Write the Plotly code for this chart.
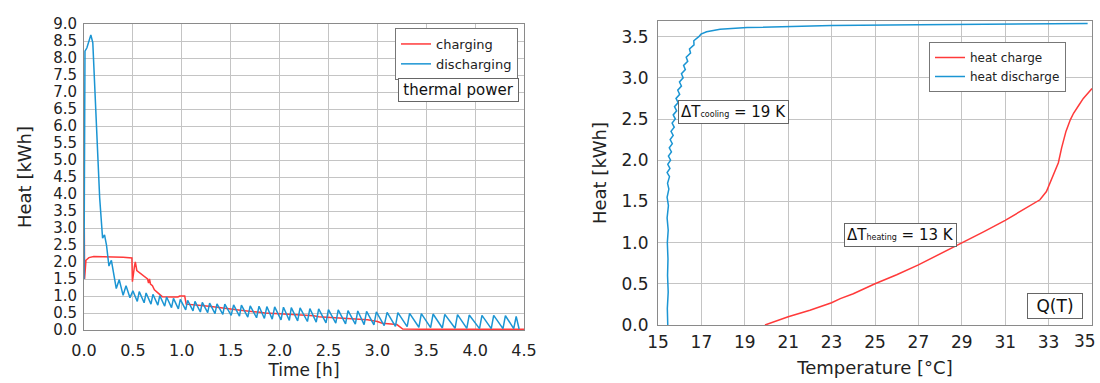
import plotly.graph_objects as go

# ---------------- Left chart: thermal power over time ----------------
charge_time = [0.0, 0.003, 0.006, 0.02, 0.05, 0.1, 0.2, 0.3, 0.4, 0.49, 0.495, 0.515, 0.525,
               0.54, 0.56, 0.6, 0.63, 0.65, 0.66, 0.67, 0.68, 0.7, 0.72, 0.75, 0.78, 0.8,
               0.9, 0.96, 0.98, 1.03, 1.045, 1.1, 1.2, 1.3, 1.4, 1.5, 1.6, 1.8, 1.85, 2.0,
               2.2, 2.35, 2.4, 2.6, 2.8, 2.9, 3.0, 3.05, 3.2, 3.26, 3.5, 4.0, 4.5]
charge_heat = [1.5, 3.0, 1.5, 2.05, 2.13, 2.16, 2.16, 2.15, 2.14, 2.12, 1.42, 1.85, 2.0,
               1.75, 1.7, 1.62, 1.55, 1.5, 1.38, 1.5, 1.35, 1.3, 1.18, 1.1, 1.02, 0.98,
               0.97, 0.97, 1.0, 1.0, 0.76, 0.74, 0.72, 0.69, 0.65, 0.6, 0.58, 0.52, 0.5, 0.48,
               0.45, 0.42, 0.39, 0.36, 0.33, 0.3, 0.25, 0.2, 0.16, 0.03, 0.02, 0.02, 0.02]

discharge_time = [0.0, 0.01, 0.03, 0.05, 0.07, 0.09, 0.12, 0.16, 0.19, 0.21, 0.23, 0.255,
                  0.28, 0.33, 0.36, 0.40, 0.43, 0.47,
                  0.500, 0.545, 0.565, 0.615, 0.635, 0.685, 0.705, 0.755, 0.775, 0.825,
                  0.845, 0.895, 0.915, 0.965, 0.985, 1.040, 1.060, 1.115, 1.135, 1.190,
                  1.210, 1.265, 1.285, 1.340, 1.360, 1.420, 1.440, 1.505, 1.530, 1.590,
                  1.610, 1.675, 1.700, 1.765, 1.790, 1.845, 1.870, 1.925, 1.950, 2.015,
                  2.040, 2.100, 2.120, 2.185, 2.210, 2.285, 2.310, 2.375, 2.400, 2.475,
                  2.500, 2.575, 2.600, 2.675, 2.700, 2.775, 2.800, 2.865, 2.890, 2.965,
                  2.990, 3.070, 3.100, 3.185, 3.210, 3.305, 3.330, 3.425, 3.450, 3.545,
                  3.570, 3.665, 3.690, 3.795, 3.820, 3.915, 3.940, 4.045, 4.070, 4.165,
                  4.190, 4.285, 4.310, 4.395, 4.420, 4.450]
discharge_heat = [1.5, 8.2, 8.3, 8.5, 8.68, 8.45, 6.5, 3.9, 2.7, 2.8, 2.5, 1.88,
                  2.05, 1.22, 1.48, 1.02, 1.3, 0.95,
                  1.15, 0.84, 1.13, 0.80, 1.09, 0.76, 1.05, 0.73, 1.01, 0.70,
                  0.97, 0.66, 0.93, 0.62, 0.90, 0.59, 0.87, 0.56, 0.84, 0.53,
                  0.81, 0.51, 0.79, 0.48, 0.77, 0.46, 0.76, 0.43, 0.74, 0.41,
                  0.73, 0.38, 0.71, 0.36, 0.70, 0.34, 0.69, 0.32, 0.68, 0.30,
                  0.67, 0.28, 0.66, 0.27, 0.65, 0.25, 0.63, 0.23, 0.62, 0.21,
                  0.60, 0.20, 0.59, 0.18, 0.57, 0.17, 0.56, 0.16, 0.55, 0.15,
                  0.53, 0.13, 0.52, 0.11, 0.51, 0.10, 0.49, 0.08, 0.48, 0.07,
                  0.47, 0.06, 0.46, 0.05, 0.45, 0.05, 0.44, 0.04, 0.43, 0.04,
                  0.43, 0.04, 0.42, 0.04, 0.40, 0.03]

left_yticks = [0.0, 0.5, 1.0, 1.5, 2.0, 2.5, 3.0, 3.5, 4.0, 4.5, 5.0, 5.5, 6.0, 6.5,
               7.0, 7.5, 8.0, 8.5, 9.0]
left_xticks = [0.0, 0.5, 1.0, 1.5, 2.0, 2.5, 3.0, 3.5, 4.0, 4.5]

# ---------------- Right chart: Q(T) ----------------
charge_temp = [19.93, 21.0, 22.0, 23.0, 23.4, 24.0, 25.0, 26.0, 27.0, 28.0, 29.0, 30.0,
               31.0, 32.0, 32.6, 32.9, 33.06, 33.25, 33.45, 33.6, 33.8, 34.0, 34.15,
               34.4, 34.6, 34.8, 35.0]
charge_q = [0.0, 0.1, 0.18, 0.27, 0.32, 0.38, 0.5, 0.61, 0.73, 0.86, 0.99, 1.13,
            1.27, 1.42, 1.52, 1.62, 1.72, 1.85, 1.97, 2.15, 2.35, 2.49, 2.57,
            2.67, 2.75, 2.81, 2.87]

discharge_temp = [15.45, 15.43, 15.47, 15.44, 15.46, 15.43, 15.47, 15.42, 15.48, 15.42,
                  15.50, 15.44, 15.53, 15.42, 15.55, 15.45, 15.58, 15.48, 15.62, 15.52,
                  15.66, 15.56, 15.70, 15.60, 15.75, 15.65, 15.80, 15.70, 15.86, 15.76,
                  15.93, 15.83, 16.00, 15.91, 16.08, 15.99, 16.16, 16.08, 16.26, 16.18,
                  16.37, 16.30, 16.50, 16.45, 16.66, 16.65, 16.88, 16.98, 17.24, 17.86,
                  19.1, 21.0, 23.0, 27.0, 31.0, 34.8]
discharge_q = [0.0, 0.2, 0.4, 0.6, 0.8, 1.0, 1.15, 1.3, 1.45, 1.55,
               1.65, 1.72, 1.80, 1.85, 1.90, 1.95, 2.00, 2.05, 2.10, 2.15,
               2.20, 2.25, 2.30, 2.35, 2.40, 2.45, 2.50, 2.55, 2.60, 2.65,
               2.70, 2.75, 2.80, 2.85, 2.90, 2.95, 3.00, 3.05, 3.10, 3.15,
               3.20, 3.25, 3.30, 3.35, 3.40, 3.45, 3.50, 3.53, 3.56, 3.59,
               3.61, 3.625, 3.635, 3.645, 3.65, 3.66]

right_yticks = [0.0, 0.5, 1.0, 1.5, 2.0, 2.5, 3.0, 3.5]
right_xticks = [15, 17, 19, 21, 23, 25, 27, 29, 31, 33, 35]

RED = "#ff3a3a"
BLUE = "#1b95d3"
FONT = "DejaVu Sans"
GRID = "#c4c4c4"
FRAME = "#8a8a8a"

fig = go.Figure()
fig.add_trace(go.Scatter(x=charge_time, y=charge_heat, mode="lines", name="charging",
                         line=dict(color=RED, width=1.5), xaxis="x", yaxis="y",
                         legend="legend"))
fig.add_trace(go.Scatter(x=discharge_time, y=discharge_heat, mode="lines", name="discharging",
                         line=dict(color=BLUE, width=1.5), xaxis="x", yaxis="y",
                         legend="legend"))
fig.add_trace(go.Scatter(x=charge_temp, y=charge_q, mode="lines", name="heat charge",
                         line=dict(color=RED, width=1.5), xaxis="x2", yaxis="y2",
                         legend="legend2"))
fig.add_trace(go.Scatter(x=discharge_temp, y=discharge_q, mode="lines", name="heat discharge",
                         line=dict(color=BLUE, width=1.5), xaxis="x2", yaxis="y2",
                         legend="legend2"))

W, H = 1100, 383

def px(x):
    return x / W

def py(y):
    return 1 - y / H

axis_common = dict(showgrid=True, gridcolor=GRID, gridwidth=1, showline=True,
                   linecolor=FRAME, linewidth=1, mirror=True, zeroline=False,
                   ticks="", color="#222", automargin=False)

# the last right-hand x tick label sits at the page edge; it is drawn as an
# annotation anchored on its tick value so it stays inside the picture
right_xtick_text = [str(v) for v in right_xticks[:-1]] + [""]

fig.update_layout(
    width=W, height=H,
    margin=dict(l=0, r=0, t=0, b=0),
    paper_bgcolor="white", plot_bgcolor="white",
    font=dict(family=FONT, color="#222"),
    xaxis=dict(domain=[px(84), px(524)], range=[0, 4.5], tickvals=left_xticks,
               ticktext=[f"{v:.1f}" for v in left_xticks], tickfont=dict(size=16),
               ticklabelstandoff=6,
               title=dict(text="Time [h]", font=dict(size=17), standoff=4),
               anchor="y", **axis_common),
    yaxis=dict(domain=[py(330), py(24)], range=[0, 9.0], tickvals=left_yticks,
               ticktext=[f"{v:.1f}" for v in left_yticks], tickfont=dict(size=15),
               ticklabelstandoff=3,
               title=dict(text="Heat [kWh]", font=dict(size=18), standoff=16),
               anchor="x", **axis_common),
    xaxis2=dict(domain=[px(658), px(1092)], range=[15, 35], tickvals=right_xticks,
                ticktext=right_xtick_text, tickfont=dict(size=17),
                ticklabelstandoff=2,
                title=dict(text="Temperature [°C]", font=dict(size=18), standoff=9),
                anchor="y2", **axis_common),
    yaxis2=dict(domain=[py(325), py(21)], range=[0, 3.69], tickvals=right_yticks,
                ticktext=[f"{v:.1f}" for v in right_yticks], tickfont=dict(size=17),
                ticklabelstandoff=5,
                title=dict(text="Heat [kWh]", font=dict(size=18), standoff=10),
                anchor="x2", **axis_common),
    legend=dict(x=px(518), y=py(28), xanchor="right", yanchor="top",
                bgcolor="white", bordercolor="#777", borderwidth=1,
                font=dict(size=13, family=FONT, color="#222"), tracegroupgap=0,
                itemwidth=30),
    legend2=dict(x=px(1066), y=py(42), xanchor="right", yanchor="top",
                 bgcolor="white", bordercolor="#777", borderwidth=1,
                 font=dict(size=12, family=FONT, color="#222"), tracegroupgap=0,
                 itemwidth=30),
    showlegend=True,
)

fig.add_annotation(text=str(right_xticks[-1]), x=right_xticks[-1], xref="x2",
                   y=py(341), yref="paper", xanchor="right", yanchor="middle",
                   xshift=6, showarrow=False, font=dict(size=17, family=FONT, color="#222"))

box = dict(bgcolor="white", bordercolor="#666", borderwidth=1, borderpad=2,
           showarrow=False, xref="paper", yref="paper")
fig.add_annotation(text="thermal power", x=px(458.5), y=py(90), xanchor="center",
                   yanchor="middle", font=dict(size=15, family=FONT, color="#111"),
                   width=115, **box)
fig.add_annotation(text='ΔT<span style="font-size:8px">cooling</span> = 19 K',
                   x=px(733), y=py(112.5), xanchor="center", yanchor="middle",
                   font=dict(size=15, family=FONT, color="#111"), **box)
fig.add_annotation(text='ΔT<span style="font-size:8px">heating</span> = 13 K',
                   x=px(900.5), y=py(234.5), xanchor="center", yanchor="middle",
                   font=dict(size=15, family=FONT, color="#111"), **box)
fig.add_annotation(text="Q(T)", x=px(1054.5), y=py(305.5), xanchor="center",
                   yanchor="middle", font=dict(size=17, family=FONT, color="#111"),
                   width=50, **box)

fig.write_html("out.html")
